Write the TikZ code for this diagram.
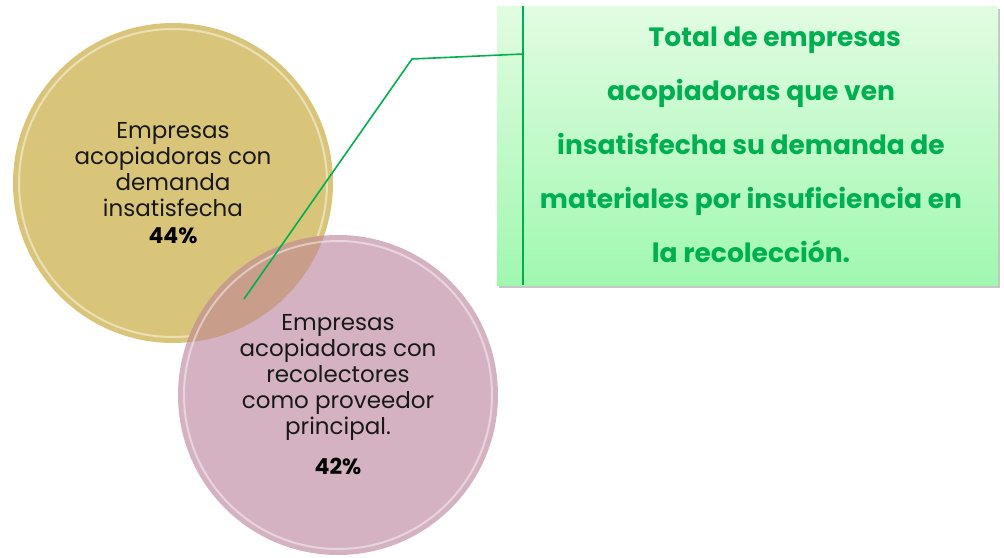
\documentclass[tikz,border=0pt]{standalone}
\usepackage{fontspec}
\setmainfont{Poppins}
\usetikzlibrary{shadows,calc}
\definecolor{yel}{RGB}{217,197,122}
\definecolor{pnk}{RGB}{208,170,186}
\definecolor{ovl}{RGB}{200,157,138}
\definecolor{grn}{RGB}{0,176,80}
\definecolor{boxtop}{RGB}{226,252,226}
\definecolor{boxbot}{RGB}{160,248,176}
\tikzset{
  bubble/.style={circle, minimum size=320pt, inner sep=0pt},
  bubbletext/.style={align=center, font=\fontsize{23}{26}\selectfont, text=black!90},
  pcttext/.style={font=\bfseries\fontsize{22}{24}\selectfont, text=black},
  infobox/.style={rectangle, minimum width=501pt, minimum height=279pt, inner sep=0pt,
    top color=boxtop, bottom color=boxbot,
    drop shadow={shadow xshift=1.5pt, shadow yshift=-2.5pt, opacity=0.45}},
  infotext/.style={align=center, font=\bfseries\fontsize{26.5}{54}\selectfont, text=grn},
  leader/.style={draw=grn, line width=1.6pt},
  rim/.style={draw=white, line width=2pt, opacity=0.45}
}
\begin{document}
\begin{tikzpicture}[x=1pt,y=-1pt]
\useasboundingbox (0,0) rectangle (1004,557);
% yellow bubble
\node[bubble, fill=yel] (ybub) at (173,183) {};
\draw[rim] (173,183) circle (154);
% pink bubble
\node[bubble, fill=pnk, fill opacity=0.9] (pbub) at (338,395) {};
\begin{scope}
  \clip (173,183) circle (160);
  \fill[ovl] (338,395) circle (160);
\end{scope}
\draw[rim] (338,395) circle (154);
% texts
\node[bubbletext] (ytext) at (173,170) {Empresas\\acopiadoras con\\demanda\\insatisfecha};
\node[pcttext] (ypct) at (173,236) {44\%};
\node[bubbletext] (ptext) at (338,377) {Empresas\\acopiadoras con\\recolectores\\como proveedor\\principal.};
\node[pcttext] (ppct) at (338,466) {42\%};
% info box
\node[infobox] (box) at (747.5,145.5) {};
\node[infotext] (btext) at (751,145) {\hspace*{1.8em}Total de empresas\\acopiadoras que ven\\insatisfecha su demanda de\\materiales por insuficiencia en\\la recolección.};
\coordinate (bartop) at (523,6);
\coordinate (barbot) at (523,285);
\coordinate (joint) at (523,54);
\coordinate (bend) at (412,59);
\coordinate (tip) at (244,299);
\draw[leader] (bartop) -- (barbot);
\draw[leader] (tip) -- (bend) -- (joint);
\end{tikzpicture}
\end{document}
